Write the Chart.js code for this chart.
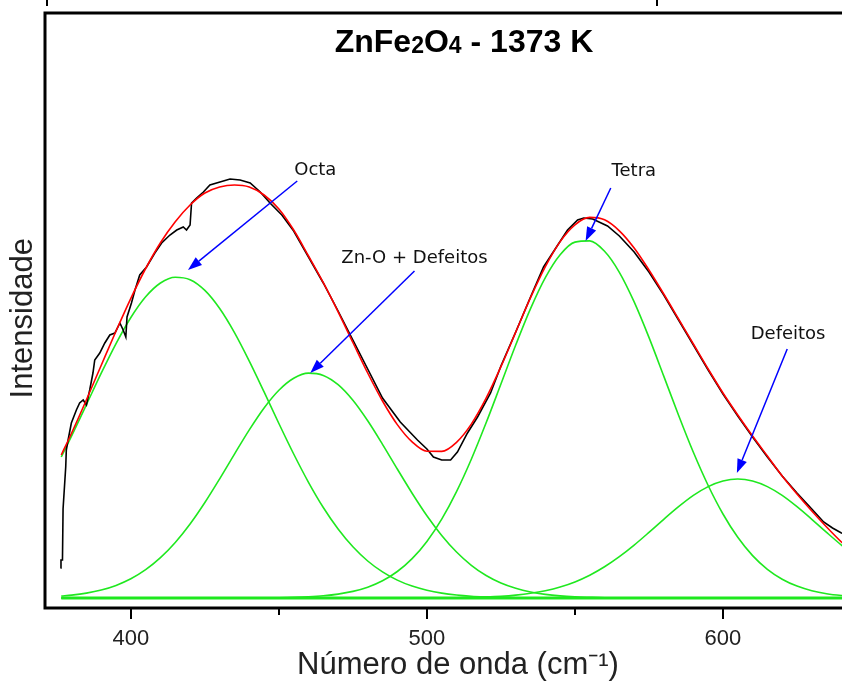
<!DOCTYPE html>
<html lang="pt">
<head>
<meta charset="utf-8">
<title>ZnFe2O4 - 1373 K</title>
<script src="https://cdn.jsdelivr.net/npm/chart.js@4.4.1/dist/chart.umd.min.js"></script>
<style>
  html, body { margin: 0; padding: 0; background: #fff; overflow: hidden; }
  #raman { display: block; }
</style>
</head>
<body>
<canvas id="raman" width="880" height="682"></canvas>
<script>
// Raman shift grid (cm-1) shared by the fitted curves
const waveGrid = [376.5, 380, 385, 390, 395, 400, 405, 410, 415, 420, 425, 430, 435, 440, 445, 450,
  455, 460, 465, 470, 475, 480, 485, 490, 495, 500, 505, 510, 515, 520, 525, 530, 535, 540, 545, 550,
  555, 560, 565, 570, 575, 580, 585, 590, 595, 600, 605, 610, 615, 620, 625, 630, 635, 640, 645, 650];

// Fitted bands (a.u.)
const octaBand = [141.0, 162.1, 193.4, 224.8, 254.4, 280.5, 301.2, 315.0, 320.8, 318.3, 307.6, 289.5,
  265.4, 236.9, 206.1, 174.5, 144.0, 115.7, 90.5, 69.0, 51.2, 37.0, 26.1, 17.9, 11.9, 7.8, 4.9, 3.0,
  1.8, 1.1, 0.6, 0.3, 0.2, 0, 0, 0, 0, 0, 0, 0, 0, 0, 0, 0, 0, 0, 0, 0, 0, 0, 0, 0, 0, 0, 0, 0];
const znoBand = [2.0, 2.9, 4.9, 8.0, 12.6, 19.2, 28.3, 40.3, 55.5, 74.0, 95.5, 119.2, 143.9, 168.1,
  190.0, 207.7, 219.7, 224.9, 222.6, 213.3, 197.7, 177.2, 153.7, 129.0, 104.8, 82.3, 62.6, 46.0, 32.7,
  22.5, 15.0, 9.7, 6.0, 3.6, 2.1, 1.2, 0.7, 0.3, 0.2, 0, 0, 0, 0, 0, 0, 0, 0, 0, 0, 0, 0, 0, 0, 0, 0, 0];
const tetraBand = [0, 0, 0, 0, 0, 0, 0, 0, 0, 0, 0, 0, 0, 0, 0.2, 0.3, 0.6, 1.2, 2.2, 3.9, 6.6, 10.8,
  17.2, 26.5, 39.4, 56.6, 78.9, 106.4, 138.8, 175.2, 214.0, 253.0, 289.4, 320.4, 343.3, 355.9, 357.1,
  346.7, 325.7, 296.1, 260.6, 221.9, 182.8, 145.7, 112.5, 84.0, 60.7, 42.4, 28.7, 18.8, 11.9, 7.3, 4.3,
  2.5, 1.4, 0.7];
const defeitosBand = [0, 0, 0, 0, 0, 0, 0, 0, 0, 0, 0, 0, 0, 0, 0, 0, 0, 0, 0, 0, 0, 0, 0, 0, 0, 0,
  0.2, 0.3, 0.6, 1.0, 1.7, 2.9, 4.7, 7.3, 11.0, 16.1, 22.8, 31.2, 41.3, 52.9, 65.6, 78.7, 91.3, 102.6,
  111.4, 117.0, 119.0, 117.0, 111.4, 102.6, 91.3, 78.7, 65.6, 52.9, 41.3, 31.2];
const fitCurve = [143.0, 165.0, 198.3, 232.8, 267.0, 299.7, 329.5, 355.3, 376.3, 393, 405, 411, 413,
  411, 403, 389, 368, 342, 315.3, 286.2, 255.5, 225.0, 197.0, 173.4, 156.1, 146.7, 146.6, 155.7, 173.9,
  199.8, 231.3, 265.9, 300.3, 331.3, 356.4, 373.2, 380.6, 378.2, 367.2, 350, 328, 304, 279, 254, 229,
  205, 183, 162, 142, 122, 104, 87, 71, 56, 43, 32];

// Measured spectrum
const expX = [376.2, 376.4, 376.9, 377.1, 378.0, 378.2, 378.8, 379.9, 381.6, 382.7, 383.9, 385.0,
  386.1, 387.2, 387.8, 389.5, 391.2, 392.9, 394.6, 396.3, 397.4, 398.3, 398.7, 400.2, 401.4, 403.0,
  405.3, 408.1, 410.4, 413.2, 415.5, 417.7, 418.8, 420.0, 420.5, 422.2, 424.5, 426.7, 430.1, 433.5,
  436.9, 440.3, 443.7, 447, 451, 455, 460, 465, 470, 475, 480, 485, 491, 496.8, 500, 502.2, 505, 508,
  510.3, 513.7, 517.1, 521.5, 525, 530, 535, 539.4, 544.2, 547.5, 550.9, 553, 556, 561, 565, 570, 575,
  580, 585, 590, 595, 600, 605, 610, 615, 620, 625, 630, 634, 637, 640, 641.5];
const expY = [30, 38, 38, 89, 131, 148, 158, 175, 188, 195, 198, 193, 208, 225, 238, 245, 255, 263,
  265, 275, 268, 261, 281, 295, 308, 323, 331, 345, 355, 363, 368, 371, 368, 373, 395, 400, 406, 413,
  416, 419, 418, 415, 406, 395, 383, 367, 341, 315, 287, 258, 229, 200, 176, 158, 149, 141, 138, 138,
  146, 165, 181, 205, 232, 266, 301, 331, 353, 368, 378, 380, 379, 372, 362, 346, 326, 303, 278, 253,
  228, 204, 182, 161, 141, 122, 105, 89, 76, 70, 65, 64];

const baseX = [376.5, 650];
const baseY = [0, 0];

const peakNames = ['Octa', 'Zn-O + Defeitos', 'Tetra', 'Defeitos'];

// Callout placement in data units: label centre, arrow tail, arrow tip
const callouts = [
  { label: [462.3, 428], tail: [456.2, 417], tip: [419.3, 328] },
  { label: [495.8, 340], tail: [495.8, 327], tip: [460.6, 225] },
  { label: [569.9, 427], tail: [562.1, 410], tip: [553.6, 357] },
  { label: [622.0, 264], tail: [621.7, 249], tip: [604.7, 125] }
];

const FONT = '"Liberation Sans", Arial, sans-serif';

const toPoints = (xs, ys) => xs.map((x, i) => ({ x: x, y: ys[i] }));

function drawArrow(ctx, x1, y1, x2, y2) {
  const ang = Math.atan2(y2 - y1, x2 - x1);
  const len = 14, half = 5;
  const bx = x2 - len * Math.cos(ang), by = y2 - len * Math.sin(ang);
  ctx.beginPath();
  ctx.moveTo(x1, y1);
  ctx.lineTo(bx, by);
  ctx.stroke();
  ctx.beginPath();
  ctx.moveTo(x2, y2);
  ctx.lineTo(bx + half * Math.sin(ang), by - half * Math.cos(ang));
  ctx.lineTo(bx - half * Math.sin(ang), by + half * Math.cos(ang));
  ctx.closePath();
  ctx.fill();
}

// Title with chemical subscripts
function drawFormulaTitle(ctx, cx, baseline) {
  const parts = [['ZnFe', 0], ['2', 1], ['O', 0], ['4', 1], [' - 1373 K', 0]];
  const big = 'bold 32px ' + FONT, small = 'bold 23px ' + FONT;
  let total = 0;
  parts.forEach(p => { ctx.font = p[1] ? small : big; total += ctx.measureText(p[0]).width; });
  let x = cx - total / 2;
  ctx.textAlign = 'left';
  ctx.textBaseline = 'alphabetic';
  ctx.fillStyle = '#000';
  parts.forEach(p => {
    ctx.font = p[1] ? small : big;
    ctx.fillText(p[0], x, baseline + (p[1] ? 1 : 0));
    x += ctx.measureText(p[0]).width;
  });
}

const framePlugin = {
  id: 'frame',
  afterDraw(chart) {
    const { ctx, chartArea: a, scales } = chart;
    ctx.save();
    ctx.strokeStyle = '#000';
    ctx.lineWidth = 3;
    ctx.strokeRect(a.left, a.top, a.right - a.left, a.bottom - a.top);

    // stub ticks of the panel stacked above
    ctx.lineWidth = 2;
    ctx.beginPath();
    ctx.moveTo(47, 0); ctx.lineTo(47, 6);
    ctx.moveTo(657, 0); ctx.lineTo(657, 6);
    ctx.stroke();

    drawFormulaTitle(ctx, 464, 52);

    // band assignments
    ctx.strokeStyle = '#0000ff';
    ctx.fillStyle = '#0000ff';
    ctx.lineWidth = 1.5;
    callouts.forEach(c => {
      drawArrow(ctx,
        scales.x.getPixelForValue(c.tail[0]), scales.y.getPixelForValue(c.tail[1]),
        scales.x.getPixelForValue(c.tip[0]), scales.y.getPixelForValue(c.tip[1]));
    });
    ctx.fillStyle = '#111';
    ctx.font = '18px "DejaVu Sans", sans-serif';
    ctx.textAlign = 'center';
    ctx.textBaseline = 'middle';
    callouts.forEach((c, i) => {
      ctx.fillText(peakNames[i], scales.x.getPixelForValue(c.label[0]), scales.y.getPixelForValue(c.label[1]));
    });
    ctx.restore();
  }
};

const green = '#1fe81f';

new Chart(document.getElementById('raman'), {
  type: 'line',
  data: {
    datasets: [
      { label: 'Ajuste', data: toPoints(waveGrid, fitCurve), borderColor: '#ff0000', order: 0 },
      { label: 'Experimental', data: toPoints(expX, expY), borderColor: '#000000', cubicInterpolationMode: 'default', tension: 0, order: 1 },
      { label: peakNames[0], data: toPoints(waveGrid, octaBand), borderColor: green, order: 2 },
      { label: peakNames[1], data: toPoints(waveGrid, znoBand), borderColor: green, order: 2 },
      { label: peakNames[2], data: toPoints(waveGrid, tetraBand), borderColor: green, order: 2 },
      { label: peakNames[3], data: toPoints(waveGrid, defeitosBand), borderColor: green, order: 2 },
      { label: 'Linha base', data: toPoints(baseX, baseY), borderColor: green, borderWidth: 3, order: 3 }
    ]
  },
  options: {
    responsive: false,
    animation: false,
    devicePixelRatio: 1,
    layout: { padding: { top: 13, left: 0, right: 0, bottom: 0 } },
    elements: {
      point: { radius: 0 },
      line: { borderWidth: 1.6, fill: false, cubicInterpolationMode: 'monotone' }
    },
    plugins: {
      legend: { display: false },
      tooltip: { enabled: false }
    },
    scales: {
      x: {
        type: 'linear',
        min: 371,
        max: 650,
        afterFit: s => { s.height = 74; },
        border: { display: false },
        grid: {
          drawOnChartArea: false,
          tickLength: 11,
          lineWidth: 2,
          color: ctx => (ctx.tick && ctx.tick.value % 50 === 0) ? '#000' : 'rgba(0,0,0,0)',
          // minor ticks (450, 550) are shorter
          tickBorderDash: ctx => (ctx.tick && ctx.tick.value % 100 === 0) ? [] : [7, 40]
        },
        ticks: {
          stepSize: 50,
          padding: 9,
          autoSkip: false,
          maxRotation: 0,
          color: '#222',
          font: { family: FONT, size: 22, lineHeight: 1 },
          callback: v => (v % 100 === 0 ? String(v) : '')
        },
        title: {
          display: true,
          text: 'Número de onda (cm⁻¹)',
          color: '#222',
          font: { family: FONT, size: 31, lineHeight: 1 },
          padding: { top: 0, bottom: 1 }
        }
      },
      y: {
        min: -10,
        max: 585,
        afterFit: s => { s.width = 45; },
        border: { display: false },
        grid: { display: false, drawTicks: false },
        ticks: { display: false },
        title: {
          display: true,
          text: 'Intensidade\u2002',
          color: '#222',
          font: { family: FONT, size: 31, lineHeight: 1 },
          padding: { top: 8, bottom: 0 }
        }
      }
    }
  },
  plugins: [framePlugin]
});
</script>
</body>
</html>
